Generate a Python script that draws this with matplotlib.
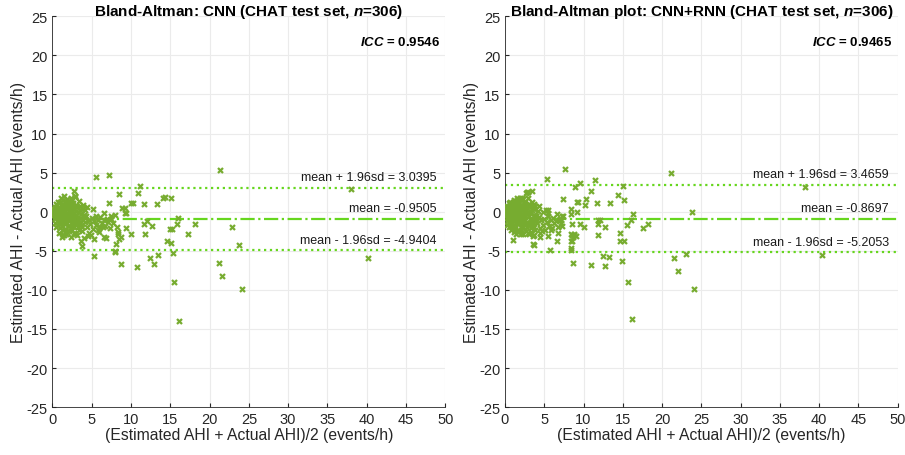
import matplotlib
matplotlib.use("Agg")
import matplotlib.pyplot as plt

plt.rcParams['font.family'] = ['Liberation Sans', 'DejaVu Sans']
plt.rcParams['axes.unicode_minus'] = False
plt.rcParams['mathtext.fontset'] = 'custom'
plt.rcParams['mathtext.rm'] = 'Liberation Sans'
plt.rcParams['mathtext.it'] = 'Liberation Sans:italic'
plt.rcParams['mathtext.bf'] = 'Liberation Sans:bold'
plt.rcParams['mathtext.bfit'] = 'Liberation Sans:italic:bold'

# ======================
# DATA
# ======================
cnn_mean = [
    0.1, 0.15, 0.2, 0.2, 0.25, 0.3, 0.3, 0.3, 0.35, 0.4, 0.4, 0.45, 0.5, 0.5, 0.5,
    0.55, 0.6, 0.6, 0.65, 0.7, 0.7, 0.7, 0.75, 0.8, 0.8, 0.8, 0.85, 0.9, 0.9, 0.9,
    0.95, 1.0, 1.0, 1.05, 1.1, 1.1, 1.1, 1.15, 1.2, 1.2, 1.2, 1.25, 1.3, 1.3, 1.3,
    1.35, 1.4, 1.4, 1.4, 1.45, 1.5, 1.5, 1.5, 1.55, 1.6, 1.6, 1.65, 1.7, 1.7, 1.7,
    1.75, 1.8, 1.8, 1.85, 1.9, 1.9, 1.9, 1.95, 2.0, 2.0, 2.05, 2.1, 2.1, 2.1, 2.15,
    2.2, 2.2, 2.25, 2.3, 2.3, 2.3, 2.35, 2.4, 2.4, 2.45, 2.5, 2.5, 2.5, 2.55, 2.6,
    2.6, 2.65, 2.7, 2.7, 2.75, 2.8, 2.8, 2.85, 2.9, 2.9, 2.9, 2.95, 3.0, 3.0, 3.05,
    3.1, 3.1, 3.15, 3.2, 3.25, 3.3, 3.35, 3.4, 3.45, 3.5, 3.55, 3.6, 3.65, 3.7, 3.75,
    3.8, 3.85, 3.9, 3.95, 4.0, 1.2, 0.8, 1.4, 0.6, 1.0, 1.8, 2.2, 0.4, 1.6, 2.0,
    4.1, 4.3, 4.4, 4.6, 4.8, 5.0, 5.1, 5.3, 5.5, 5.6, 5.8, 6.0, 6.1, 6.3, 6.5,
    6.7, 6.9, 7.1, 7.3, 7.5, 7.7, 7.9, 4.2, 4.7, 5.2, 5.9, 6.6, 7.4, 3.6, 4.0, 4.9,
    2.7, 2.9, 3.5, 4.4, 5.5, 7.2, 8.9, 9.2, 9.35, 11.2, 8.5, 10.9, 7.2, 10.0, 10.3,
    11.6, 13.3, 14.1, 14.3, 15.15, 9.2, 16.0, 18.2, 22.9, 11.7, 12.0, 12.7, 14.9, 15.2,
    15.9, 11.8, 10.0, 9.35, 8.2, 17.3, 14.6, 15.15, 23.7, 8.1, 8.0, 8.5, 8.7, 8.3,
    5.3, 3.7, 5.3, 6.6, 6.8, 5.8, 6.4, 4.5, 1.5, 15.3, 13.4, 12.4, 12.9, 8.7, 10.7,
    21.2, 21.6, 24.1, 15.5, 16.1, 21.3, 38.0, 40.2, 8.0, 8.4,
]
cnn_diff = [
    0.0, -0.1, 0.3, -0.4, 0.2, -0.2, 0.6, -1.5, -0.8, 0.5, -0.3, 1.0, -0.6, 0.1, -1.9,
    -1.2, 0.9, 0.3, -0.5, -1.0, 0.2, 1.3, 0.0, -0.3, 0.6, -2.7, -0.8, -1.4, 0.0, -2.1,
    0.5, 1.2, -0.7, -1.6, 0.4, -0.2, 1.7, 1.0, -1.8, 0.8, -3.2, -0.1, -0.5, 0.2, -2.4,
    -1.3, 1.5, -1.1, -3.0, 0.9, 0.0, -0.4, 2.0, -0.8, 0.7, -2.2, -1.6, -0.9, 0.3, -2.9,
    1.2, 1.0, -1.5, -0.4, -0.1, -2.6, 1.6, -1.1, 0.5, -0.7, 0.9, 1.3, -1.2, -2.5, -1.8,
    -0.3, 0.1, -0.9, 1.8, -1.9, -3.2, 0.3, -0.6, 0.6, -1.4, -2.3, 0.2, 1.5, -0.5, -1.0,
    1.1, 0.7, -0.2, -2.7, -2.0, -1.6, 0.4, -1.2, -2.8, 1.9, 2.0, 0.1, -0.5, 0.9, -1.6,
    -1.3, -3.0, 0.6, 0.0, -0.9, -2.0, -2.4, 1.4, 0.2, -0.8, -1.4, -1.7, -0.3, 0.3, -1.9,
    -2.5, 0.8, -1.1, -0.7, -0.4, -0.9, -1.3, -0.6, -0.2, -1.1, -0.5, -1.0, -0.7, -1.5, -0.3,
    -1.3, -0.6, -2.0, -1.0, -1.6, -0.8, -2.2, -1.2, -0.5, -1.7, -1.0, -2.0, -0.7, -1.4, -1.1,
    -1.8, -0.9, -1.3, -2.1, -0.6, -1.5, -0.4, 0.2, -2.7, 0.3, -2.6, -0.2, -0.9, -3.8, -3.3, -3.0,
    2.6, 2.0, 0.7, 0.6, 4.4, 4.7, 0.5, 0.5, -0.1, 3.3, 2.3, 2.4, 1.1, 1.1, 1.1,
    1.0, 1.0, 1.7, 1.9, 1.8, -0.1, -0.8, -1.6, -1.9, -1.6, -1.2, -1.8, -2.2, -2.2,
    -1.6, -2.9, -2.9, -2.1, -2.0, -2.9, -3.7, -4.0, -4.3, -4.1, -5.1, -3.5, -3.2, -2.6,
    -3.5, -4.4, -5.7, -3.2, -3.4, -2.4, -1.9, -3.1, -3.0, -5.3, -5.5, -5.9, -6.7, -6.7, -7.1,
    -6.5, -8.2, -9.9, -9.0, -14.0, 5.4, 2.9, -5.9, -5.0, -2.8,
]

rnn_mean = [
    0.1, 0.15, 0.2, 0.2, 0.25, 0.3, 0.3, 0.3, 0.35, 0.4, 0.4, 0.45, 0.5, 0.5, 0.5,
    0.55, 0.6, 0.6, 0.65, 0.7, 0.7, 0.7, 0.75, 0.8, 0.8, 0.8, 0.85, 0.9, 0.9, 0.9,
    0.95, 1.0, 1.0, 1.05, 1.1, 1.1, 1.1, 1.15, 1.2, 1.2, 1.2, 1.25, 1.3, 1.3, 1.3,
    1.35, 1.4, 1.4, 1.4, 1.45, 1.5, 1.5, 1.5, 1.55, 1.6, 1.6, 1.65, 1.7, 1.7, 1.7,
    1.75, 1.8, 1.8, 1.85, 1.9, 1.9, 1.9, 1.95, 2.0, 2.0, 2.05, 2.1, 2.1, 2.1, 2.15,
    2.2, 2.2, 2.25, 2.3, 2.3, 2.3, 2.35, 2.4, 2.4, 2.45, 2.5, 2.5, 2.5, 2.55, 2.6,
    2.6, 2.65, 2.7, 2.7, 2.75, 2.8, 2.8, 2.85, 2.9, 2.9, 2.9, 2.95, 3.0, 3.0, 3.05,
    3.1, 3.1, 3.15, 3.2, 3.25, 3.3, 3.35, 3.4, 3.45, 3.5, 3.55, 3.6, 3.65, 3.7, 3.75,
    3.8, 3.85, 3.9, 3.95, 4.0, 1.2, 0.8, 1.4, 0.6, 1.0, 1.8, 2.2, 0.4, 1.6, 2.0,
    4.1, 4.3, 4.4, 4.6, 4.8, 5.0, 5.1, 5.3, 5.5, 5.6, 5.8, 6.0, 6.1, 6.3, 6.5,
    6.7, 6.9, 7.1, 4.2, 4.7, 5.2, 5.9, 6.6, 3.9, 4.5,
    7.6, 21.1, 5.4, 11.5, 9.5, 8.9, 15.0, 11.0, 2.75, 2.7, 3.5, 14.4, 15.1, 7.4, 9.2,
    9.3, 10.3, 10.2, 11.7, 13.4, 2.2, 3.0, 3.3, 3.7, 4.35, 5.5, 5.5, 4.9, 8.4, 9.2,
    8.4, 7.3, 7.4, 16.3, 23.8, 16.1, 15.5, 18.2, 17.6, 11.8, 12.1, 11.9, 12.7, 10.1, 9.6,
    8.5, 7.3, 7.0, 7.1, 6.7, 8.4, 8.5, 8.6, 8.8, 8.8, 8.4, 8.5, 8.4, 8.4, 9.0,
    11.8, 14.6, 14.6, 15.2, 6.6, 5.5, 5.7, 4.5, 3.6, 3.7, 3.6, 3.7, 1.05, 2.0, 12.5,
    13.2, 12.7, 10.9, 8.7, 14.9, 21.5, 22.0, 23.1, 24.1, 15.6, 16.2, 38.2, 40.4,
]
rnn_diff = [
    0.2, -0.3, 0.5, -0.8, 0.0, 0.7, -0.4, -1.7, -1.1, 0.3, -0.1, 1.1, -0.6, 0.4, -2.0,
    -1.3, 0.9, 0.1, -0.5, -1.0, 0.5, 1.3, -0.2, -0.6, 0.8, -2.4, -0.9, -1.5, 0.2, -1.9,
    0.6, 1.2, -0.8, -1.8, 0.3, -0.3, 1.5, 0.9, -2.1, 0.7, -2.6, -0.1, -0.6, 0.3, -2.2,
    -1.4, 1.4, -1.1, -2.8, 1.0, 0.0, -0.5, 1.8, -0.9, 0.6, -2.3, -1.6, -1.0, 0.4, -2.6,
    1.1, 1.3, -1.5, -0.4, -0.2, -2.5, 1.7, -1.2, 0.6, -0.7, 0.8, 1.5, -1.3, -2.4, -1.8,
    -0.4, 0.2, -1.0, 1.6, -1.9, -2.9, 0.3, -0.7, 0.7, -1.5, -2.2, 0.1, 1.3, -0.5, -1.1,
    1.0, 0.6, -0.3, -2.5, -2.0, -1.6, 0.5, -1.3, -2.7, 1.8, 2.5, 0.0, -0.6, 0.9, -1.7,
    -1.4, -2.8, 0.7, -0.1, -1.0, -2.1, -2.6, 1.3, 0.2, -0.9, -1.5, -1.8, -0.4, 0.4, -2.0,
    -2.3, 0.7, -1.2, -0.8, -0.5, -1.0, -1.4, -0.7, -0.3, -1.2, -0.6, -1.1, -0.8, -1.6, -0.4,
    -1.4, -0.7, -2.1, -1.1, -1.7, -0.9, -2.3, -1.3, -0.6, -1.8, -1.1, -2.1, -0.8, -1.5, -1.2,
    -1.9, -1.0, -1.4, 0.1, -2.5, 0.2, -2.4, -0.3, -0.5, -2.7,
    5.5, 5.0, 4.2, 4.0, 3.7, 3.2, 3.3, 2.6, 2.5, 2.4, 2.7, 2.2, 1.5, 1.6, 1.3,
    1.2, 1.6, 0.8, 1.1, 1.1, 1.7, 1.0, 0.9, 1.0, 0.7, 0.2, -0.1, 0.0, 0.3, 0.0,
    -0.3, -0.6, -0.5, -0.3, 0.0, -1.1, -1.7, -1.6, -2.1, -1.1, -1.0, -1.6, -1.9, -1.9, -1.6,
    -1.6, -1.8, -0.9, -1.0, -2.7, -2.8, -3.0, -3.2, -3.0, -2.9, -3.8, -3.7, -4.7, -4.9, -3.1,
    -3.0, -2.7, -3.7, -3.8, -3.8, -3.1, -4.9, -3.2, -3.1, -3.0, -4.1, -4.2, -3.6, -2.8, -5.7,
    -5.8, -6.9, -6.8, -6.6, -6.3, -5.9, -7.6, -5.4, -9.9, -9.0, -13.7, 3.1, -5.6,
]

panels = [
    {"title": r"Bland-Altman: CNN (CHAT test set, $\mathbfit{n}$=306)",
     "x": cnn_mean, "y": cnn_diff, "bias": -0.9505, "upper": 3.0395,
     "lower": -4.9404, "icc": "0.9546"},
    {"title": r"Bland-Altman plot: CNN+RNN (CHAT test set, $\mathbfit{n}$=306)",
     "x": rnn_mean, "y": rnn_diff, "bias": -0.8697, "upper": 3.4659,
     "lower": -5.2053, "icc": "0.9465"},
]

marker_color = "#77AC30"
line_color = "#66D61E"


def main():
    fig = plt.figure(figsize=(9.05, 4.56), dpi=100)
    axes_pos = [[0.058, 0.105, 0.434, 0.857], [0.558, 0.105, 0.434, 0.857]]

    for pos, p in zip(axes_pos, panels):
        ax = fig.add_axes(pos)
        ax.scatter(p["x"], p["y"], marker="x", s=13, linewidths=1.6,
                   color=marker_color, zorder=3)

        ax.axhline(p["upper"], color=line_color, linestyle=":", linewidth=1.6, zorder=2)
        ax.axhline(p["bias"], color=line_color, linestyle="-.", linewidth=1.6, zorder=2)
        ax.axhline(p["lower"], color=line_color, linestyle=":", linewidth=1.6, zorder=2)

        # limit-of-agreement labels
        ax.text(48.9, p["upper"] + 0.6, f"mean + 1.96sd = {p['upper']:.4f}",
                ha="right", va="bottom", fontsize=9, color="#1a1a1a")
        ax.text(48.9, p["bias"] + 0.6, f"mean = {p['bias']:.4f}",
                ha="right", va="bottom", fontsize=9, color="#1a1a1a")
        ax.text(48.9, p["lower"] + 0.6, f"mean - 1.96sd = {p['lower']:.4f}",
                ha="right", va="bottom", fontsize=9, color="#1a1a1a")
        ax.text(49.3, 21.8, r"$\mathbfit{ICC}$ = " + p["icc"], ha="right", va="center",
                fontsize=9.5, fontweight="bold", color="black")

        ax.set_xlim(0, 50)
        ax.set_ylim(-25, 25)
        ax.set_xticks(range(0, 51, 5))
        ax.set_yticks(range(-25, 26, 5))
        ax.tick_params(direction="in", length=3, labelsize=10.5, colors="#262626")
        ax.grid(True, color="#ebebeb", linewidth=0.8)
        ax.set_axisbelow(True)
        for side in ["top", "right"]:
            ax.spines[side].set_visible(False)
        for side in ["left", "bottom"]:
            ax.spines[side].set_color("#262626")
            ax.spines[side].set_linewidth(0.6)

        # fixed y keeps the title from being pushed up by the "25" tick label
        ax.set_title(p["title"], fontsize=11, fontweight="bold", y=1.0, pad=1)
        ax.set_xlabel("(Estimated AHI + Actual AHI)/2 (events/h)", fontsize=11.3,
                      color="#262626", labelpad=1)
        ax.set_ylabel("Estimated AHI - Actual AHI (events/h)", fontsize=11.3,
                      color="#262626", labelpad=0)

    fig.savefig("out.png", dpi=100)
    plt.close(fig)


if __name__ == "__main__":
    main()
